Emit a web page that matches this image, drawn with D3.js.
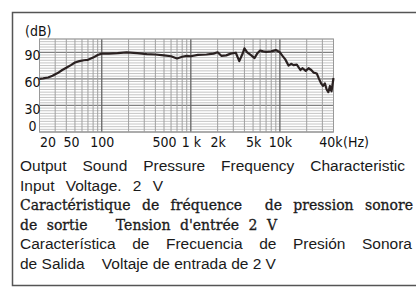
<!DOCTYPE html>
<html>
<head>
<meta charset="utf-8">
<script src="https://cdn.jsdelivr.net/npm/d3@7"></script>
<style>
  body { margin: 0; background: #fff; }
  svg { display: block; }
</style>
</head>
<body>
<div id="chart"></div>
<script>
// frequency response
var freqHz = [20, 22, 25, 28, 32, 36, 40, 45, 50, 56, 63, 70, 80, 90, 100, 120, 150, 190, 250, 320,
  400, 500, 600, 700, 800, 900, 1000, 1200, 1500, 1800, 2000, 2200, 2500, 2800, 3200, 3500, 3800,
  4000, 4300, 4700, 5200, 5600, 6000, 6500, 7000, 8000, 9000, 10000, 10700, 11500, 12500, 13500,
  14200, 15500, 17000, 18000, 19500, 21000, 22500, 24000, 26000, 27500, 29000, 30500, 32000,
  33500, 35000, 36500, 38000, 40000];
var levelDb = [60, 60.5, 61.5, 63.5, 66.5, 70, 72.5, 75.5, 78.5, 80, 81, 81.5, 84, 87, 88.5, 88.5, 89, 90, 89, 88,
  87.5, 86.5, 85.5, 83, 85, 86, 85.5, 87, 87.5, 88.5, 90, 86, 86.5, 88.5, 89.5, 80, 88,
  94.5, 90, 87, 83.5, 89, 92, 91, 90.5, 91, 92.5, 90, 86, 82, 75, 77,
  75.5, 76, 70, 72, 69, 72, 70, 67, 66, 60, 55, 52, 55,
  48, 45, 52, 46, 61];

var xTicks = [20, 50, 100, 500, 1000, 2000, 5000, 10000, 40000];
var xTickLabels = ["20", "50", "100", "500", "1 k", "2k", "5k", "10k", "40k"];
var yTicks = [0, 30, 60, 90];
var yLabel = "(dB)";
var xUnit = "(Hz)";

var captionLines = [
  { text: "Output Sound Pressure Frequency Characteristic", serif: false, w: 385 },
  { text: "Input Voltage. 2 V", serif: false, w: 143 },
  { text: "Caractéristique de fréquence  de pression sonore", serif: true, w: 393 },
  { text: "de sortie   Tension d'entrée 2 V", serif: true, w: 257 },
  { text: "Característica de Frecuencia de Presión Sonora", serif: false, w: 392 },
  { text: "de Salida    Voltaje de entrada de 2 V", serif: false, w: 252 }
];

var width = 417, height = 287;
var svg = d3.select("#chart").append("svg")
  .attr("width", width)
  .attr("height", height);

// outer frame (open on the right)
svg.append("polyline")
  .attr("points", "416,12.5 12.5,12.5 12.5,285.5 416,285.5")
  .attr("fill", "none")
  .attr("stroke", "#555")
  .attr("stroke-width", 1.5);

var x = d3.scaleLog().domain([20, 40000]).range([39.5, 333.5]);
var y = d3.scaleLinear().domain([0, 105]).range([132, 39]);

var grid = svg.append("g");

// horizontal grid, every 3 dB
d3.range(0, 106, 3).forEach(function (v) {
  var major = v % 30 === 0;
  grid.append("line")
    .attr("x1", x(20)).attr("x2", x(40000))
    .attr("y1", y(v)).attr("y2", y(v))
    .attr("stroke", major ? "#808080" : "#bdbdbd")
    .attr("stroke-width", major ? 1.2 : 0.9);
});

// vertical grid, 1..9 per decade
var vLines = [];
[10, 100, 1000, 10000].forEach(function (d) {
  for (var m = 1; m <= 9; m++) {
    var f = d * m;
    if (f >= 20 && f <= 40000) vLines.push(f);
  }
});
vLines.push(40000);
vLines.forEach(function (f) {
  var decade = [100, 1000, 10000].indexOf(f) >= 0;
  grid.append("line")
    .attr("x1", x(f)).attr("x2", x(f))
    .attr("y1", y(105)).attr("y2", y(0))
    .attr("stroke", decade ? "#666" : "#a0a0a0")
    .attr("stroke-width", decade ? 1.3 : 1);
});

grid.append("rect")
  .attr("x", x(20)).attr("y", y(105))
  .attr("width", x(40000) - x(20)).attr("height", y(0) - y(105))
  .attr("fill", "none")
  .attr("stroke", "#999")
  .attr("stroke-width", 1);

// response curve
var pts = freqHz.map(function (f, i) { return [f, levelDb[i]]; });
svg.append("path")
  .datum(pts)
  .attr("fill", "none")
  .attr("stroke", "#2a2121")
  .attr("stroke-width", 2.2)
  .attr("stroke-linejoin", "round")
  .attr("d", d3.line().x(function (d) { return x(d[0]); }).y(function (d) { return y(d[1]); }));

var tickFont = "'Liberation Sans Narrow', 'DejaVu Sans Condensed', 'Arial Narrow', sans-serif";

// y axis labels
var yAxis = svg.append("g")
  .attr("transform", "translate(" + x(20) + ",0)")
  .call(d3.axisLeft(y).tickValues(yTicks).tickSize(0).tickFormat(d3.format("d")));
yAxis.select(".domain").remove();
yAxis.selectAll("text")
  .attr("x", -7)
  .attr("text-anchor", "middle")
  .attr("fill", "#111")
  .style("font-family", tickFont)
  .style("font-size", "14px")
  .attr("dy", function (d) { return d === 0 ? "-0.1em" : "0.55em"; });

// x axis labels
var xAxis = svg.append("g")
  .attr("transform", "translate(0," + y(0) + ")")
  .call(d3.axisBottom(x).tickValues(xTicks).tickSize(0)
    .tickFormat(function (d, i) { return xTickLabels[i]; }));
xAxis.select(".domain").remove();
xAxis.selectAll("text")
  .attr("y", 5)
  .attr("fill", "#111")
  .style("font-family", tickFont)
  .style("font-size", "14px")
  .attr("text-anchor", function (d) { return d === 20 ? "start" : "middle"; })
  .attr("x", function (d) { return d === 20 ? 0 : (d === 50 ? -4 : (d === 40000 ? -3 : 0)); });

svg.append("text")
  .attr("x", 25).attr("y", 36)
  .attr("fill", "#111")
  .style("font-family", tickFont)
  .style("font-size", "14px")
  .text(yLabel);

svg.append("text")
  .attr("x", 343).attr("y", 147)
  .attr("fill", "#111")
  .style("font-family", tickFont)
  .style("font-size", "14px")
  .text(xUnit);

// caption block: gaps stretched so each line ends where the reference does
captionLines.forEach(function (c, i) {
  var t = svg.append("text")
    .attr("xml:space", "preserve")
    .attr("x", 20)
    .attr("y", 171 + i * 19.6)
    .attr("fill", "#1a1a1a")
    .style("font-family", c.serif ? "'DejaVu Serif', 'Liberation Serif', serif" : "'Liberation Sans', Arial, sans-serif")
    .style("font-size", c.serif ? "14px" : "15.5px")
    .text(c.text);
  if (c.serif) t.attr("stroke", "#1a1a1a").attr("stroke-width", 0.3);
  var natural = t.node().getComputedTextLength();
  var spaces = (c.text.match(/ /g) || []).length;
  if (spaces > 0) {
    t.style("word-spacing", Math.max(0, (c.w - natural) / spaces) + "px");
  }
});
</script>
</body>
</html>
